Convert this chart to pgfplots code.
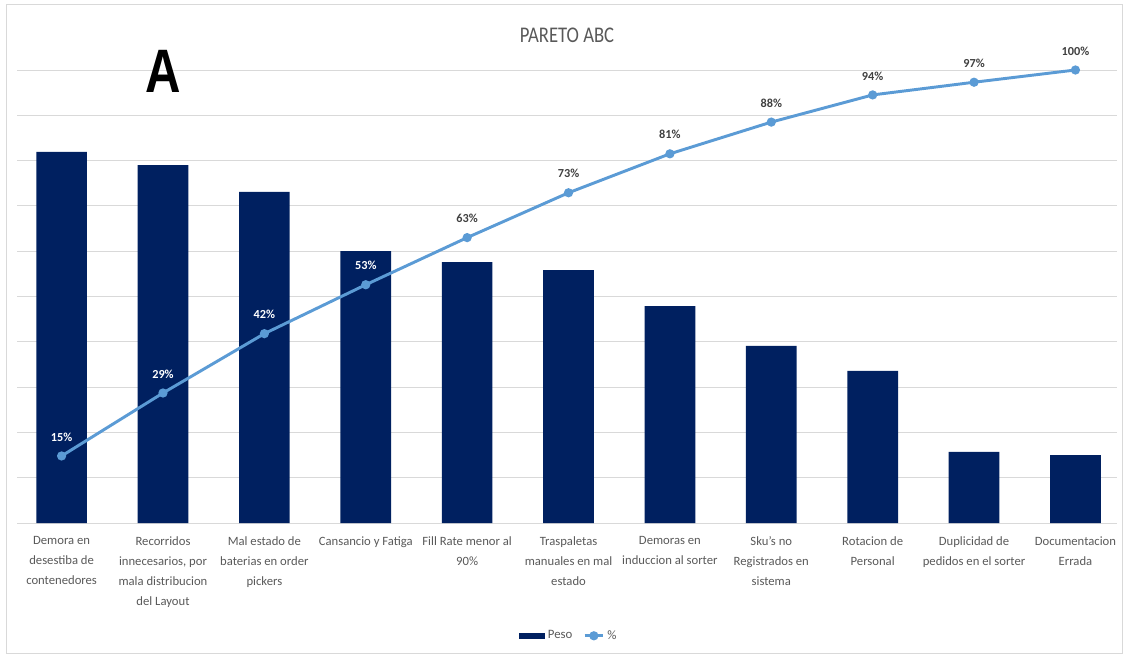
\documentclass[border=0pt]{standalone}
\usepackage{pgfplots}
\pgfplotsset{compat=1.18}
\usepackage{fontspec}
\setmainfont{Carlito}
\newfontfamily\arialfont{Liberation Sans}
\definecolor{barblue}{HTML}{002060}
\definecolor{lineblue}{HTML}{5B9BD5}
\definecolor{txtgray}{HTML}{595959}
\definecolor{lblgray}{HTML}{404040}
\definecolor{gridgray}{HTML}{D9D9D9}
\begin{document}
\begin{tikzpicture}
\begin{scope}[x=0.75pt,y=0.75pt]
\path[use as bounding box] (-17,-135) rectangle (1112,523);
\draw[gridgray, line width=0.75pt] (-10,-130) rectangle (1105,518);
\end{scope}
\begin{axis}[
  at={(0,0)}, anchor=south west,
  scale only axis, width=825pt, height=339.75pt,
  xmin=-0.44, xmax=10.41, ymin=0, ymax=100,
  axis line style={draw=none},
  clip=false,
  ytick={10,20,...,100}, yticklabels={},
  ymajorgrids, grid style={gridgray, line width=0.75pt},
  xtick={0,...,10},
  major tick length=0pt,
  tick style={draw=none},
  xticklabels={
    {Demora en\\desestiba de\\contenedores},
    {Recorridos\\innecesarios, por\\mala distribucion\\del Layout},
    {Mal estado de\\baterias en order\\pickers},
    {Cansancio y Fatiga},
    {Fill Rate menor al\\90\%},
    {Traspaletas\\manuales en mal\\estado},
    {Demoras en\\induccion al sorter},
    {Sku's no\\Registrados en\\sistema},
    {Rotacion de\\Personal},
    {Duplicidad de\\pedidos en el sorter},
    {Documentacion\\Errada}},
  xticklabel style={font=\fontsize{9.5}{15}\selectfont, text=txtgray, align=center, anchor=north, yshift=-6.5pt},
  legend style={draw=none, at={(0.502,-0.249)}, anchor=center, legend columns=-1,
    font=\fontsize{9.6}{11}\selectfont, text=txtgray,
    /tikz/every even column/.append style={column sep=6pt}},
]
\addplot[draw=gridgray, line width=0.75pt, forget plot] coordinates {(-0.44,0) (10.41,0)};
\addplot[ybar, bar width=0.5, fill=barblue, draw=none,
  legend image code/.code={\fill[barblue] (0pt,-2.2pt) rectangle (19.5pt,2.2pt);}]
  coordinates {(0,81.9) (1,79.0) (2,73.1) (3,60.0) (4,57.6) (5,55.8) (6,47.9) (7,39.1) (8,33.6) (9,15.7) (10,15.0)};
\addlegendentry{Peso}
\addplot[lineblue, line width=2.2pt, mark=*, mark size=2.3pt, mark options={fill=lineblue, draw=lineblue},
  legend image code/.code={\draw[lineblue, line width=2.2pt] (0pt,0pt) -- (14pt,0pt); \fill[lineblue] (7pt,0pt) circle (2.3pt);}]
  coordinates {(0,14.8) (1,28.7) (2,41.8) (3,52.6) (4,63.0) (5,72.9) (6,81.5) (7,88.5) (8,94.5) (9,97.3) (10,100)};
\addlegendentry{\%}
\addplot[draw=none, forget plot, point meta=explicit symbolic, nodes near coords,
  every node near coord/.style={font=\bfseries\fontsize{9.2}{10}\selectfont, text=white, anchor=center, yshift=14.25pt}]
  coordinates {(0,14.8) [15\%] (1,28.7) [29\%] (2,41.8) [42\%] (3,52.6) [53\%]};
\addplot[draw=none, forget plot, point meta=explicit symbolic, nodes near coords,
  every node near coord/.style={font=\bfseries\fontsize{9.2}{10}\selectfont, text=lblgray, anchor=center, yshift=14.25pt}]
  coordinates {(4,63.0) [63\%] (5,72.9) [73\%] (6,81.5) [81\%] (7,88.5) [88\%] (8,94.5) [94\%] (9,97.3) [97\%] (10,100) [100\%]};
\end{axis}
\begin{scope}[x=0.75pt,y=0.75pt]
\node[font=\fontsize{14}{16}\selectfont, text=txtgray, yscale=1.2, transform shape] at (550,488) {PARETO ABC};
\node[font=\arialfont\bfseries\fontsize{46}{50}\selectfont, text=black, xscale=0.8, transform shape] at (146,452) {A};
\end{scope}
\end{tikzpicture}
\end{document}
